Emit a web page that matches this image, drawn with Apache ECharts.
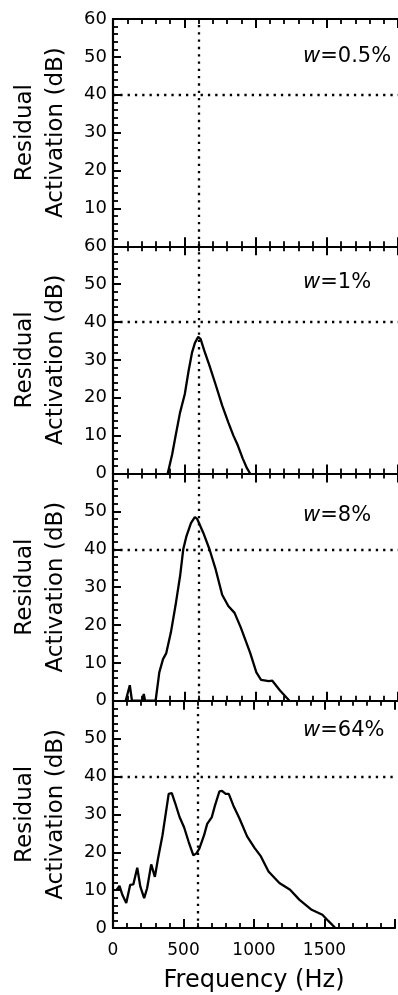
<!DOCTYPE html>
<html><head><meta charset="utf-8">
<script src="https://cdn.jsdelivr.net/npm/echarts@6/dist/echarts.min.js"></script>
<style>html,body{margin:0;padding:0;background:#fff}#c{width:398px;height:995px}</style>
</head><body><div id="c"></div>
<script>
// ---- data ----
const panelLabels = ['0.5%', '1%', '8%', '64%'];
const yTicks = [0, 10, 20, 30, 40, 50, 60];
const xTicks = [0, 500, 1000, 1500];
const refFreq = 600;   // vertical dotted reference (Hz)
const refLevel = 40;   // horizontal dotted reference (dB)

const w05Freq = [];
const w05Level = [];

const w1Freq = [384, 415, 438, 470, 504, 530, 555, 575, 598, 615, 640, 677, 720, 766, 809, 845, 875, 910, 940, 962];
const w1Level = [0, 5, 9.7, 16, 21, 27, 32, 34.5, 36.1, 35.5, 32.5, 28.5, 23.5, 18, 13.5, 10, 7.5, 4, 1.4, 0];

const w8Freq = [89, 118, 133, 205, 216, 225, 299, 325, 351, 373, 406, 438, 471, 493, 515, 547, 574, 591, 634, 677, 721, 766, 809, 853, 897, 962, 1006, 1039, 1093, 1118, 1172, 1238];
const w8Level = [0, 4.1, 0, 0, 1.8, 0, 0, 7.5, 11, 12.5, 18, 25, 33, 40, 43.4, 46.9, 48.5, 48, 44.3, 40, 34.6, 28, 25, 23.2, 19.3, 12.7, 7.5, 5.5, 5.2, 5.3, 2.7, 0];

const w64Freq = [24, 46, 67, 94, 122, 144, 172, 194, 221, 242, 271, 297, 319, 351, 395, 417, 439, 472, 504, 537, 570, 592, 613, 646, 668, 701, 723, 755, 773, 799, 821, 854, 897, 951, 1005, 1049, 1103, 1180, 1256, 1321, 1409, 1485, 1529, 1577];
const w64Level = [10.0, 11.1, 8.7, 6.6, 11.4, 11.5, 15.9, 10.9, 7.9, 10.5, 16.8, 13.5, 18.3, 24.5, 35.4, 35.6, 33.2, 29.3, 26.6, 22.7, 19.2, 19.7, 21.0, 24.5, 27.5, 29.3, 32.3, 36.1, 36.2, 35.4, 35.4, 32.3, 28.9, 24.2, 21.1, 18.9, 14.9, 11.9, 10.1, 7.5, 4.8, 3.5, 1.8, 0];

const panelFreq = [w05Freq, w1Freq, w8Freq, w64Freq];
const panelLevel = [w05Level, w1Level, w8Level, w64Level];

// ---- layout ----
const FONT = 'DejaVu Sans';
const gridLeft = 113, gridWidth = 305.7, gridH = 227.25, gridTop0 = 19;
const xMax = 2000;
const labelY = [57, 283, 516, 731];

const grids = [], xAxes = [], yAxes = [], series = [], graphics = [];
const axisLine = { show: true, onZero: false, lineStyle: { color: '#000', width: 2.2 } };
const tick = { show: true, inside: true, length: 9, lineStyle: { color: '#000', width: 2 } };
const minor = { show: true, splitNumber: 5, length: 5, lineStyle: { color: '#000', width: 1.8 } };

for (let i = 0; i < 4; i++) {
  const top = gridTop0 + i * gridH;
  grids.push({ left: gridLeft, top: top, width: gridWidth, height: gridH });
  // bottom x axis
  xAxes.push({
    type: 'value', gridIndex: i, position: 'bottom', min: xTicks[0], max: xMax, interval: 500,
    axisLine: axisLine, axisTick: tick, minorTick: minor,
    splitLine: { show: false },
    axisLabel: {
      show: i === 3, margin: 14, color: '#000', fontFamily: FONT, fontSize: 17,
      formatter: v => (xTicks.indexOf(v) >= 0 ? String(v) : '')
    },
    name: i === 3 ? 'Frequency (Hz)' : '', nameLocation: 'middle', nameGap: 41,
    nameTextStyle: { color: '#000', fontFamily: FONT, fontSize: 24 }
  });
  // top x axis (ticks only)
  xAxes.push({
    type: 'value', gridIndex: i, position: 'top', min: xTicks[0], max: xMax, interval: 500,
    axisLine: axisLine, axisTick: tick, minorTick: minor,
    splitLine: { show: false }, axisLabel: { show: false }
  });
  yAxes.push({
    type: 'value', gridIndex: i, min: yTicks[0], max: yTicks[yTicks.length - 1], interval: 10,
    axisLine: axisLine,
    axisTick: { show: true, inside: true, length: 8, lineStyle: { color: '#000', width: 2 } },
    minorTick: minor,
    splitLine: { show: false },
    axisLabel: {
      margin: 6, color: '#000', fontFamily: FONT, fontSize: 18,
      showMinLabel: i !== 0, showMaxLabel: i <= 1
    }
  });
  const data = panelFreq[i].map((f, k) => [f, panelLevel[i][k]]);
  series.push({
    type: 'line', xAxisIndex: 2 * i, yAxisIndex: i, data: data,
    showSymbol: false, symbol: 'none', clip: true,
    lineStyle: { color: '#000', width: 2.3 },
    markLine: {
      silent: true, symbol: ['none', 'none'], label: { show: false },
      lineStyle: { color: '#000', width: 2.3, type: [2.3, 5] },
      data: [{ xAxis: refFreq }, { yAxis: refLevel }]
    }
  });
  // panel label "w=..."
  graphics.push({
    type: 'text', x: 303, y: labelY[i],
    style: {
      text: '{i|w}=' + panelLabels[i],
      font: '21px "' + FONT + '"', fill: '#000', textVerticalAlign: 'middle',
      rich: { i: { fontStyle: 'italic', fontSize: 21, fontFamily: FONT } }
    }
  });
  const cy = top + gridH / 2;
  graphics.push({
    type: 'text', x: 25, y: cy, rotation: Math.PI / 2,
    style: { text: 'Residual', font: '23px "' + FONT + '"', fill: '#000', textAlign: 'center', textVerticalAlign: 'middle' }
  });
  graphics.push({
    type: 'text', x: 56.5, y: cy, rotation: Math.PI / 2,
    style: { text: 'Activation (dB)', font: '23px "' + FONT + '"', fill: '#000', textAlign: 'center', textVerticalAlign: 'middle' }
  });
}

const chart = echarts.init(document.getElementById('c'), null, { renderer: 'canvas' });
chart.setOption({
  animation: false,
  backgroundColor: '#fff',
  grid: grids, xAxis: xAxes, yAxis: yAxes, series: series,
  graphic: graphics
});
</script></body></html>
